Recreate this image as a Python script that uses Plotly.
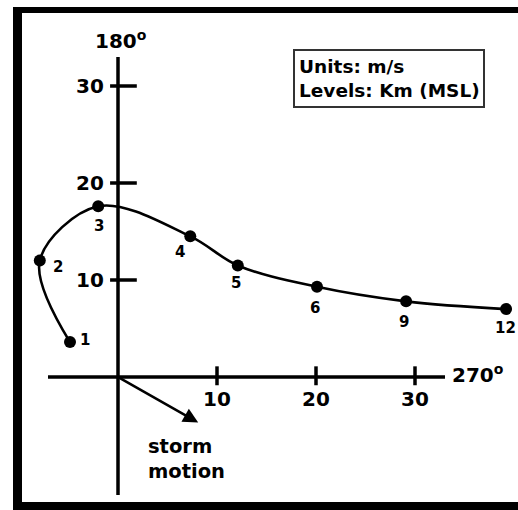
import plotly.graph_objects as go

# ---- data (m/s) ----
levels = ["1", "2", "3", "4", "5", "6", "9", "12"]
u_wind = [-4.85, -7.9, -2.0, 7.3, 12.1, 20.1, 29.1, 39.2]
v_wind = [3.6, 12.0, 17.6, 14.5, 11.5, 9.3, 7.8, 7.0]
x_ticks = [10, 20, 30]
y_ticks = [10, 20, 30]
storm_u = 8.1
storm_v = -4.7
x_axis_label = "270<sup>o</sup>"
y_axis_label = "180<sup>o</sup>"
legend_lines = ["Units: m/s", "Levels: Km (MSL)"]
storm_label = "storm<br>motion"

# ---- layout geometry ----
W, H = 518, 510
OX, OY = 118, 377          # pixel position of origin
SX, SY = 9.9, 9.7          # pixels per m/s
xr = [-OX / SX, (W - OX) / SX]
yr = [(OY - H) / SY, OY / SY]

def px(x):
    return x / W

def py(y):
    return 1 - y / H

FONT = "DejaVu Sans"
label_shift = [(15, 2), (18, -6), (1, -20), (-10, -16), (-2, -18), (-2, -21), (-2, -21), (-1, -19)]

fig = go.Figure()

fig.add_trace(go.Scatter(
    x=u_wind, y=v_wind, mode="lines+markers",
    line=dict(color="black", width=2.6, shape="spline", smoothing=1.0),
    marker=dict(color="black", size=12),
    cliponaxis=False, hoverinfo="skip", showlegend=False,
))

shapes = []
# axes
shapes.append(dict(type="line", xref="x", yref="y", x0=0, x1=0,
                   y0=(OY - 495) / SY, y1=(OY - 57) / SY,
                   line=dict(color="black", width=3.5)))
shapes.append(dict(type="line", xref="x", yref="y", x0=(48 - OX) / SX, x1=(445 - OX) / SX,
                   y0=0, y1=0, line=dict(color="black", width=3.5)))
for t in y_ticks:
    shapes.append(dict(type="line", xref="x", yref="y", x0=-0.8, x1=1.9, y0=t, y1=t,
                       line=dict(color="black", width=3.5)))
for t in x_ticks:
    shapes.append(dict(type="line", xref="x", yref="y", x0=t, x1=t, y0=-0.85, y1=1.1,
                       line=dict(color="black", width=3.5)))
# frame
for (x0, y0, x1, y1) in [(13, 7, W + 5, 13), (13, 7, 22, 510), (13, 502, W + 5, 510)]:
    shapes.append(dict(type="rect", xref="paper", yref="paper",
                       x0=px(x0), x1=px(x1), y0=py(y1), y1=py(y0),
                       fillcolor="black", line=dict(width=0)))
# legend box
shapes.append(dict(type="rect", xref="paper", yref="paper",
                   x0=px(294), x1=px(484), y0=py(107), y1=py(50),
                   line=dict(color="#333", width=2), fillcolor="white"))

ann = []
for lab, x, y, (dx, dy) in zip(levels, u_wind, v_wind, label_shift):
    ann.append(dict(x=x, y=y, xref="x", yref="y", text=lab, showarrow=False,
                    xshift=dx, yshift=dy, font=dict(family=FONT, size=15, color="black", weight="bold")))
for t in y_ticks:
    ann.append(dict(x=-1.2, y=t, xref="x", yref="y", text=str(t), showarrow=False,
                    xanchor="right", font=dict(family=FONT, size=20, color="black", weight="bold")))
for t in x_ticks:
    ann.append(dict(x=t, y=-2.3, xref="x", yref="y", text=str(t), showarrow=False,
                    font=dict(family=FONT, size=20, color="black", weight="bold")))
ann.append(dict(x=(450 - OX) / SX, y=0, xref="x", yref="y", text=x_axis_label, showarrow=False,
                xanchor="left", yshift=3, font=dict(family=FONT, size=20, color="black", weight="bold")))
ann.append(dict(x=0.3, y=(OY - 40) / SY, xref="x", yref="y", text=y_axis_label, showarrow=False,
                xanchor="center", font=dict(family=FONT, size=20, color="black", weight="bold")))
ann.append(dict(x=px(297), y=py(78.5), xref="paper", yref="paper",
                text="<br>".join(legend_lines), showarrow=False, xanchor="left", yanchor="middle",
                align="left",
                font=dict(family=FONT, size=18.5, color="black", weight="bold")))
ann.append(dict(x=2.8, y=(OY - 459) / SY, xref="x", yref="y", text=storm_label, showarrow=False,
                xanchor="left", yanchor="middle", align="left",
                font=dict(family=FONT, size=19.5, color="black", weight="bold")))
# storm motion arrow
ann.append(dict(x=storm_u, y=storm_v, ax=0, ay=0, xref="x", yref="y", axref="x", ayref="y",
                text="", showarrow=True, arrowhead=2, arrowsize=1.2, arrowwidth=2.5,
                arrowcolor="black"))

fig.update_layout(
    width=W, height=H, margin=dict(l=0, r=0, t=0, b=0),
    paper_bgcolor="white", plot_bgcolor="white",
    xaxis=dict(range=xr, visible=False, fixedrange=True),
    yaxis=dict(range=yr, visible=False, fixedrange=True),
    shapes=shapes, annotations=ann, showlegend=False,
)

fig.write_html("out.html", config={"displayModeBar": False},
               post_script="document.body.style.margin='0';document.body.style.overflow='hidden';")
